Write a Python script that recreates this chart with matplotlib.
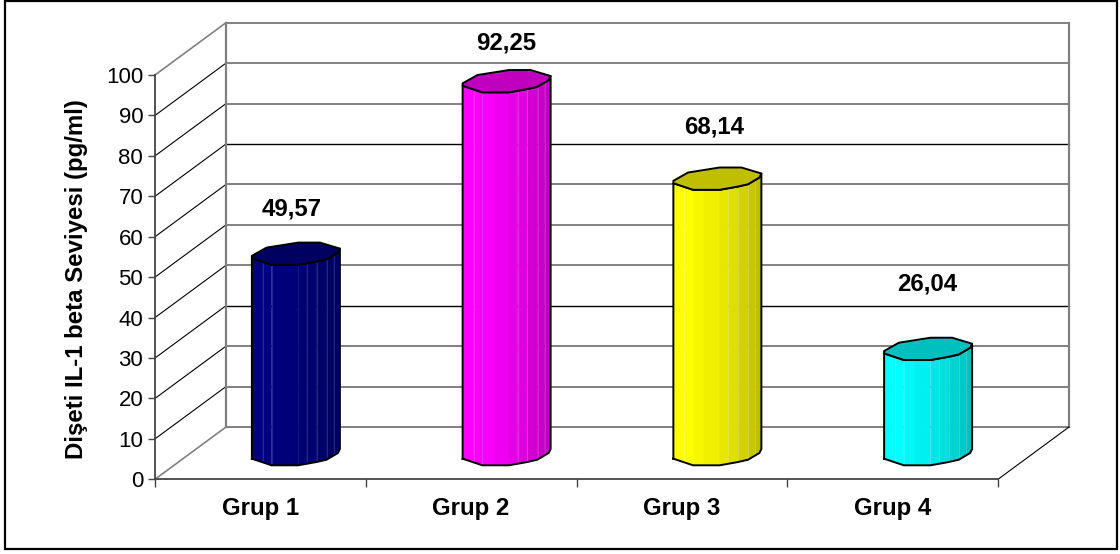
import numpy as np
import matplotlib
matplotlib.use("Agg")
import matplotlib.pyplot as plt
from matplotlib.patches import Polygon, Rectangle

plt.rcParams["font.family"] = ["Liberation Sans", "DejaVu Sans"]

gruplar = ["Grup 1", "Grup 2", "Grup 3", "Grup 4"]
degerler = [49.57, 92.25, 68.14, 26.04]
etiketler = ["49,57", "92,25", "68,14", "26,04"]
renkler = ["#000080", "#ff00ff", "#ffff00", "#00ffff"]
y_tikler = list(range(0, 101, 10))
koyu_cizgiler = [30, 70]
orta_cizgiler = [40, 80, 90, 50]

W, H = 1120, 554
fig = plt.figure(figsize=(W / 100, H / 100), dpi=100, facecolor="white")

# on duzlem: x 155-998, y 75-479 piksel
ax = fig.add_axes([155 / W, 1 - 479.3 / H, 843 / W, 404.3 / H])
ax.set_xlim(0, 4)
ax.set_ylim(0, 100)
ax.patch.set_alpha(0)

PX = 4 / 843
PY = 100 / 404.3
DX = 71 * PX
DY = 52.3 * PY

# dis cerceve
fig.add_artist(Rectangle((5 / W, 1 - 549 / H), 1112 / W, 548.5 / H,
                         transform=fig.transFigure, fill=False,
                         edgecolor="black", linewidth=1.6))

GRI = "#808080"

# arka duvar ve yan duvar cizgileri
for v in y_tikler:
    if v in koyu_cizgiler:
        renk, kalin = "black", 1.0
    elif v in orta_cizgiler:
        renk, kalin = "#606060", 1.1
    else:
        renk, kalin = GRI, 1.4
    ax.plot([DX, 4 + DX], [v + DY, v + DY], color=renk, lw=kalin, zorder=1, clip_on=False)
    if 0 < v < 100:
        ax.plot([0, DX], [v, v + DY], color="black", lw=0.8, zorder=1, clip_on=False)
ax.plot([DX, DX], [DY, 100 + DY], color=GRI, lw=1.6, zorder=1, clip_on=False)
ax.plot([4 + DX, 4 + DX], [DY, 100 + DY], color=GRI, lw=1.6, zorder=1, clip_on=False)
ax.plot([0, DX], [0, DY], color=GRI, lw=1.2, zorder=1, clip_on=False)
ax.plot([0, DX], [100, 100 + DY], color=GRI, lw=1.2, zorder=1, clip_on=False)
ax.plot([4, 4 + DX], [0, DY], color="black", lw=0.8, zorder=1, clip_on=False)

# silindirin sekizgen kesiti, merkeze gore piksel
kapak_x = np.array([-44, -29.3, 2.3, 24, 44, 42, 30.7, 20.7, 2.3, -24.3, -44])
kapak_y = np.array([-2.3, 6, 11, 11, 5, 1, -5.7, -8, -11.3, -11.3, -4.7])
alt_x = np.array([-44, -24.3, 2.3, 20.7, 30.7, 42, 44])
alt_y = np.array([-4.7, -11.3, -11.3, -8, -5.7, 1, 5])
serit_x = np.array([-44, -33, -24.3, -13, 2.3, 11, 20.7, 31, 38, 44])
serit_ton = [1.0, 1.0, 0.97, 0.94, 0.9, 0.87, 0.82, 0.78, 0.75]
cizgili = [-33, -24.3, 11, 20.7, 31, 38]
TABAN = (479.3 - 454) * PY


def kolon_ciz(i, deger, renk):
    mx = i + 0.5 + DX / 2
    tepe = TABAN + deger
    rgb = np.array(matplotlib.colors.to_rgb(renk))
    # govde seritleri
    for k in range(len(serit_x) - 1):
        x0, x1 = serit_x[k], serit_x[k + 1]
        y0 = np.interp(x0, alt_x, alt_y)
        y1 = np.interp(x1, alt_x, alt_y)
        kose = [(mx + x0 * PX, tepe + y0 * PY), (mx + x1 * PX, tepe + y1 * PY),
                (mx + x1 * PX, TABAN + y1 * PY), (mx + x0 * PX, TABAN + y0 * PY)]
        ton = rgb * serit_ton[k]
        ax.add_patch(Polygon(kose, closed=True, facecolor=ton, edgecolor=ton,
                             linewidth=0.3, zorder=3, clip_on=False))
        if x0 in cizgili:
            ax.plot([mx + x0 * PX] * 2, [TABAN + y0 * PY, tepe + y0 * PY],
                    color="white", alpha=0.18, lw=0.6, zorder=3.5, clip_on=False)
    # govde dis hatti
    xs = mx + alt_x * PX
    hat_x = np.concatenate([xs, xs[::-1], xs[:1]])
    hat_y = np.concatenate([TABAN + alt_y * PY, tepe + alt_y[::-1] * PY, TABAN + alt_y[:1] * PY])
    ax.plot(hat_x, hat_y, color="black", lw=1.4, zorder=4, clip_on=False, solid_joinstyle="round")
    # ust kapak
    nokta = np.column_stack([mx + kapak_x * PX, tepe + kapak_y * PY])
    ax.add_patch(Polygon(nokta, closed=True, facecolor=rgb * 0.75, edgecolor="black",
                         linewidth=1.4, joinstyle="round", zorder=5, clip_on=False))


for i, (d, r) in enumerate(zip(degerler, renkler)):
    kolon_ciz(i, d, r)

# deger etiketleri, kolon tepesinden piksel cinsinden yukari
etiket_yukari = [45, 38, 51.5, 64.7]
etiket_kayma = [-4, 0, -3, -1]
for i, (d, e) in enumerate(zip(degerler, etiketler)):
    ax.annotate(e, xy=(i + 0.5 + DX / 2, TABAN + d),
                xytext=(etiket_kayma[i] * 0.72, etiket_yukari[i] * 0.72),
                textcoords="offset points", ha="center", va="center",
                fontsize=17.3, fontweight="bold", color="black", annotation_clip=False)

# eksenler
for s in ["top", "right"]:
    ax.spines[s].set_visible(False)
for s in ["left", "bottom"]:
    ax.spines[s].set_color("#444444")
    ax.spines[s].set_linewidth(1.3)
ax.set_yticks(y_tikler)
ax.tick_params(axis="y", length=5, width=1, color="#444444", labelsize=16, pad=3.5)
ax.set_xticks(range(5))
ax.set_xticklabels([])
ax.tick_params(axis="x", which="major", length=6, width=1, color="#444444")
ax.set_xticks([0.5, 1.5, 2.5, 3.5], minor=True)
ax.set_xticklabels(gruplar, minor=True, fontsize=17.3, fontweight="bold")
ax.tick_params(axis="x", which="minor", length=0, pad=13)
fig.text(77 / W, 1 - 279 / H, "Dişeti IL-1 beta Seviyesi (pg/ml)", rotation=90,
         ha="center", va="center", fontsize=17.3, fontweight="bold")

fig.savefig("out.png", dpi=100)
